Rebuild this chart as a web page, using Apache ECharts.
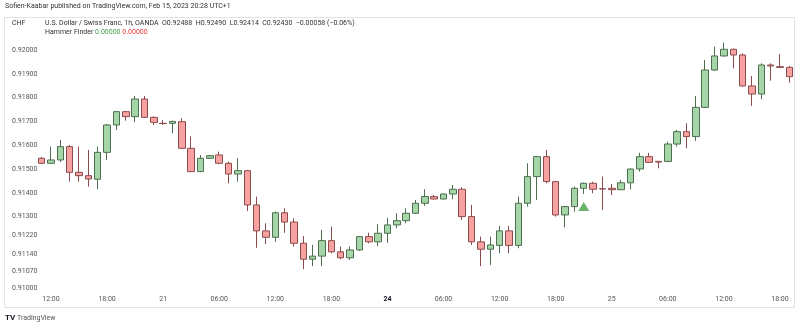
<!DOCTYPE html>
<html><head><meta charset="utf-8">
<script src="https://cdn.jsdelivr.net/npm/echarts@6/dist/echarts.min.js"></script>
<style>html,body{margin:0;padding:0;background:#fff}#c{width:800px;height:327px}</style>
</head><body><div id="c"></div>
<script>
// OHLC values (USD/CHF, 1h)
const opens  = [0.91545,0.91524,0.91538,0.91594,0.91486,0.91472,0.91457,0.91570,0.91685,0.91741,
                0.91720,0.91794,0.91717,0.91692,0.91692,0.91699,0.91587,0.91489,0.91545,0.91559,
                0.91524,0.91479,0.91493,0.91349,0.91240,0.91213,0.91316,0.91277,0.91188,0.91121,
                0.91134,0.91199,0.91152,0.91127,0.91160,0.91216,0.91194,0.91230,0.91265,0.91283,
                0.91314,0.91356,0.91384,0.91374,0.91395,0.91415,0.91300,0.91194,0.91163,0.91179,
                0.91240,0.91179,0.91356,0.91468,0.91552,0.91447,0.91307,0.91342,0.91419,0.91440,
                0.91417,0.91419,0.91413,0.91442,0.91500,0.91552,0.91532,0.91532,0.91605,0.91657,
                0.91636,0.91759,0.91916,0.91975,0.92003,0.91979,0.91849,0.91815,0.91937,0.91930,
                0.91927];
const closes = [0.91524,0.91538,0.91594,0.91486,0.91472,0.91458,0.91570,0.91685,0.91741,0.91720,
                0.91794,0.91717,0.91696,0.91691,0.91700,0.91587,0.91489,0.91545,0.91556,0.91524,
                0.91479,0.91493,0.91349,0.91240,0.91213,0.91316,0.91277,0.91188,0.91121,0.91134,
                0.91199,0.91152,0.91127,0.91160,0.91216,0.91194,0.91230,0.91265,0.91283,0.91314,
                0.91356,0.91384,0.91374,0.91395,0.91415,0.91300,0.91194,0.91163,0.91181,0.91240,
                0.91179,0.91356,0.91468,0.91552,0.91447,0.91307,0.91342,0.91419,0.91440,0.91415,
                0.91416,0.91413,0.91442,0.91500,0.91552,0.91528,0.91529,0.91605,0.91657,0.91636,
                0.91759,0.91916,0.91975,0.92003,0.91979,0.91849,0.91815,0.91937,0.91933,0.91927,
                0.91888];
const lows   = [0.91521,0.91521,0.91529,0.91447,0.91447,0.91426,0.91415,0.91538,0.91664,0.91703,
                0.91696,0.91714,0.91685,0.91685,0.91650,0.91584,0.91487,0.91487,0.91542,0.91520,
                0.91440,0.91447,0.91324,0.91169,0.91185,0.91194,0.91232,0.91174,0.91079,0.91092,
                0.91092,0.91146,0.91121,0.91118,0.91156,0.91188,0.91176,0.91190,0.91251,0.91272,
                0.91311,0.91345,0.91372,0.91372,0.91373,0.91286,0.91181,0.91092,0.91097,0.91146,
                0.91146,0.91167,0.91342,0.91370,0.91440,0.91300,0.91255,0.91321,0.91395,0.91398,
                0.91328,0.91391,0.91412,0.91415,0.91489,0.91525,0.91503,0.91529,0.91594,0.91587,
                0.91618,0.91756,0.91912,0.91973,0.91923,0.91847,0.91765,0.91793,0.91871,0.91926,
                0.91863];
const highs  = [0.91550,0.91594,0.91622,0.91601,0.91594,0.91580,0.91594,0.91689,0.91744,0.91744,
                0.91807,0.91807,0.91721,0.91706,0.91703,0.91713,0.91637,0.91559,0.91559,0.91573,
                0.91531,0.91545,0.91496,0.91384,0.91272,0.91321,0.91335,0.91293,0.91218,0.91181,
                0.91244,0.91258,0.91174,0.91174,0.91218,0.91232,0.91268,0.91295,0.91314,0.91335,
                0.91370,0.91415,0.91391,0.91397,0.91433,0.91423,0.91349,0.91216,0.91216,0.91261,
                0.91261,0.91384,0.91524,0.91555,0.91580,0.91450,0.91345,0.91426,0.91443,0.91447,
                0.91468,0.91437,0.91454,0.91502,0.91568,0.91568,0.91534,0.91615,0.91664,0.91692,
                0.91807,0.91958,0.92014,0.92031,0.92006,0.91986,0.91891,0.91944,0.91944,0.91983,
                0.91933];
// Hammer Finder signal
const hammerIndex = [58];
const hammerLevel = [0.91342];
// axis labels
const yTicks = [0.92000,0.91900,0.91800,0.91700,0.91600,0.91500,0.91400,0.91300,0.91220,0.91140,0.91070,0.91000];
const dayLabels = ['21','24','25'];
const firstHour = 11;

const categories = [];
let d = 0;
for (let i = 0; i < opens.length; i++) {
  const h = (firstHour + i) % 24;
  if (h === 0) { categories.push(dayLabels[d++]); }
  else categories.push((h < 10 ? '0' : '') + h + ':00');
}
const ohlc = opens.map((o, i) => [o, closes[i], lows[i], highs[i]]);
const hammer = hammerIndex.map((ix, k) => [ix, hammerLevel[k]]);

const FONT = 'Roboto, "Noto Sans", sans-serif';
const chart = echarts.init(document.getElementById('c'), null, {renderer: 'canvas'});
chart.setOption({
  animation: false,
  backgroundColor: '#ffffff',
  grid: {left: 37, top: 17, width: 757, height: 275, containLabel: false},
  xAxis: {
    type: 'category', data: categories, boundaryGap: true,
    axisLine: {show: false}, axisTick: {show: false}, splitLine: {show: false},
    axisLabel: {
      interval: (idx) => (idx - 1) % 6 === 0,
      margin: 4, fontSize: 7, color: '#555', fontFamily: FONT,
      formatter: (v) => v === '24' ? '{b|24}' : v,
      rich: {b: {fontWeight: 'bold', color: '#131722', fontSize: 7, fontFamily: FONT}}
    }
  },
  yAxis: {
    type: 'value', min: 0.909832, max: 0.921387, position: 'left', scale: true,
    axisLine: {show: false}, axisTick: {show: false}, splitLine: {show: false},
    axisLabel: {
      customValues: yTicks, align: 'left', margin: 25,
      fontSize: 7, color: '#555', fontFamily: FONT,
      formatter: (v) => v.toFixed(5)
    }
  },
  series: [
    {
      type: 'candlestick', data: ohlc, barWidth: 7,
      itemStyle: {
        color: '#a5d6a7', color0: '#f7a1a1',
        borderColor: '#4d6e4f', borderColor0: '#8c4b4b', borderWidth: 1
      }
    },
    {
      type: 'scatter', data: hammer, symbol: 'triangle', symbolSize: [11, 9],
      itemStyle: {color: '#43a047'}, z: 5
    }
  ],
  graphic: [
    {type: 'rect', shape: {x: 4.5, y: 17.5, width: 790, height: 290}, style: {fill: 'none', stroke: '#e0e3eb', lineWidth: 1}, silent: true},
    {type: 'text', left: 5, top: 3, style: {text: 'Sofien-Kaabar published on TradingView.com, Feb 15, 2023 20:28 UTC+1', fontSize: 7, fill: '#333', fontFamily: FONT}},
    {type: 'text', left: 12, top: 20, style: {text: 'CHF', fontSize: 7, fill: '#333', fontFamily: FONT}},
    {type: 'text', left: 45, top: 20, style: {text: 'U.S. Dollar / Swiss Franc, 1h, OANDA  O0.92488  H0.92490  L0.92414  C0.92430  \u22120.00058 (\u22120.06%)', fontSize: 7, fill: '#333', fontFamily: FONT}},
    {type: 'text', left: 45, top: 29, style: {
      text: 'Hammer Finder {g|0.00000} {r|0.00000}', fontSize: 7, fill: '#333', fontFamily: FONT,
      rich: {g: {fill: '#43a047', fontSize: 7, fontFamily: FONT}, r: {fill: '#e53935', fontSize: 7, fontFamily: FONT}}
    }},
    {type: 'text', left: 5, top: 314, style: {text: 'TV', fontSize: 8, fontWeight: 'bold', fill: '#131722', fontFamily: FONT}},
    {type: 'text', left: 17, top: 315, style: {text: 'TradingView', fontSize: 7, fill: '#555', fontFamily: FONT}}
  ]
});
</script>
</body></html>
